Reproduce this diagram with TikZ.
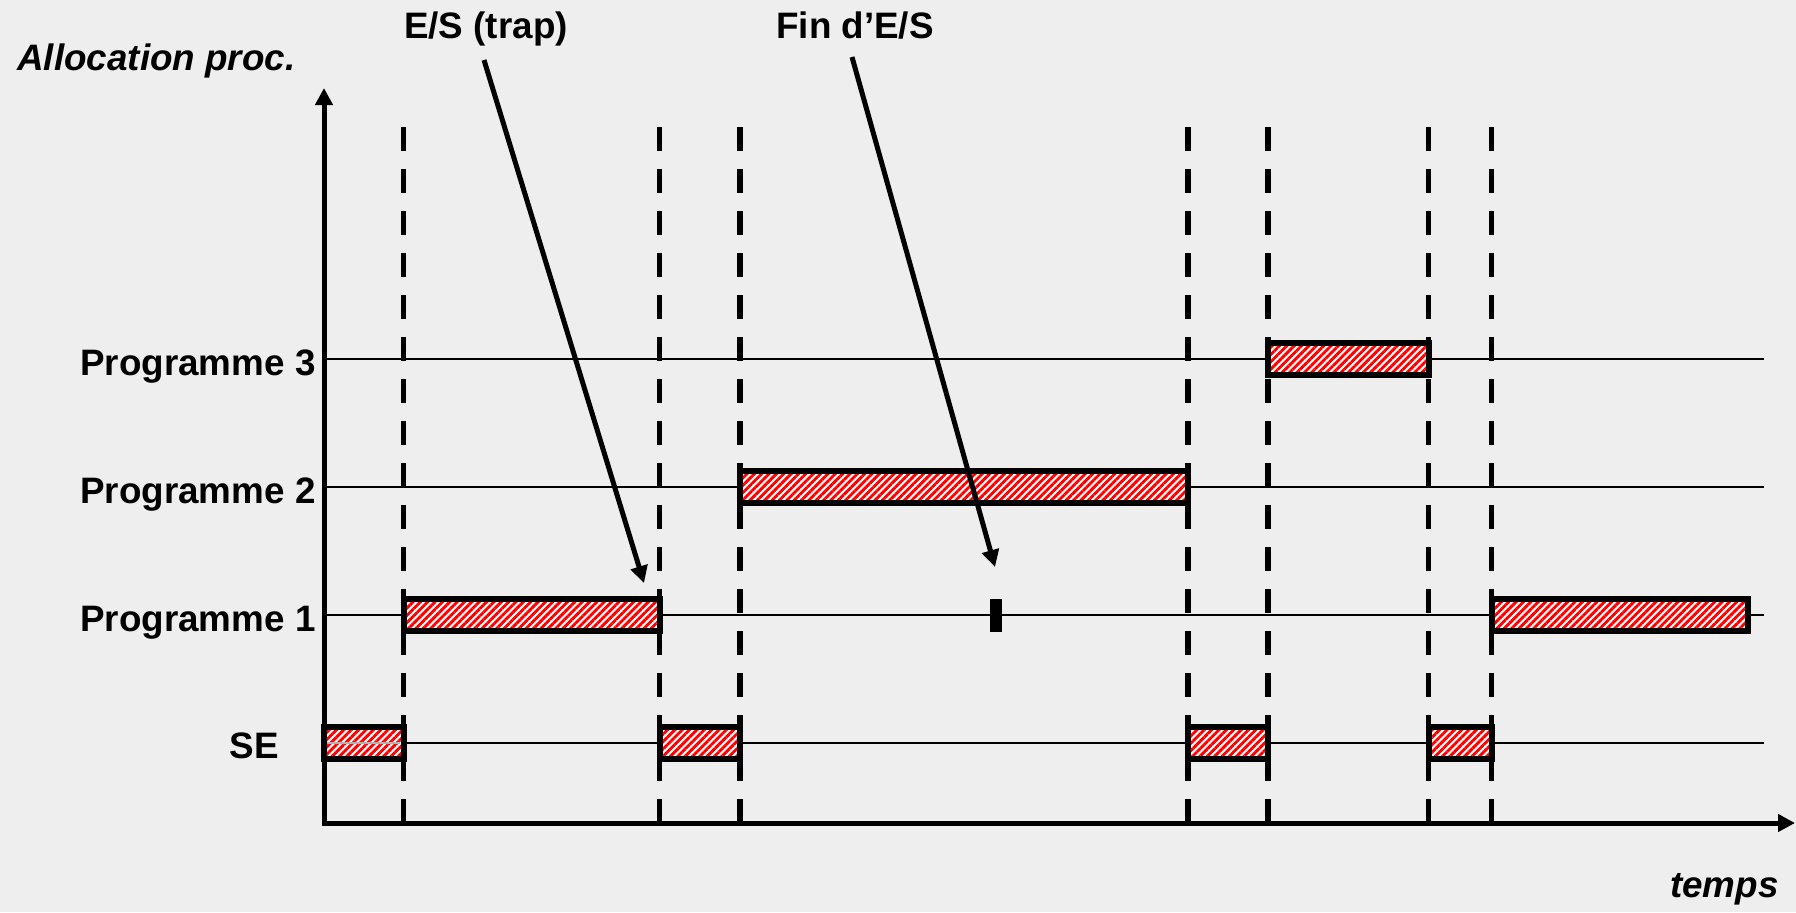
\documentclass[tikz,border=0pt]{standalone}
\usepackage{fontspec}
\setmainfont{Liberation Sans}
\usetikzlibrary{arrows.meta,patterns.meta}
\definecolor{bg}{HTML}{EEEEEE}
\begin{document}
\begin{tikzpicture}[x=0.5pt,y=-0.5pt,
  lbl/.style={font=\fontsize{18.4}{22}\selectfont\bfseries, inner sep=0pt},
  ilbl/.style={font=\fontsize{18.4}{22}\selectfont\bfseries\itshape, inner sep=0pt},
  levelline/.style={line width=1pt},
  dashline/.style={line width=2.75pt, dash pattern=on 12pt off 9pt},
  barbox/.style={preaction={fill=white},
    preaction={pattern={Lines[angle=45,distance=2.6pt,line width=1.45pt]}, pattern color=red},
    draw=black, line width=3pt},
  axisline/.style={line width=2.5pt},
  callout/.style={line width=2.5pt, -{Triangle[length=8.5pt,width=8.5pt]}}]
\fill[bg] (0,0) rectangle (1796,912);
\useasboundingbox (0,0) rectangle (1796,912);
% axis reference points
\coordinate (O) at (324,823);
\coordinate (ytop) at (324,88);
\coordinate (xend) at (1795,823);
% level lines
\foreach \y in {359,487,615,743}{
  \draw[levelline] (324,\y) -- (1764,\y);
}
% dashed separators
\foreach \x in {403.5,659.5,740,1188,1268,1428.5,1491.5}{
  \draw[dashline] (\x,127) -- (\x,823);
}
% bars
\draw[barbox] (324,727) rectangle (403.5,759);
\draw[gray!60, line width=1pt] (327,743) -- (400,743);
\draw[barbox] (403.5,599) rectangle (659.5,631);
\draw[barbox] (659.5,727) rectangle (740,759);
\draw[barbox] (740,471) rectangle (1188,503);
\draw[barbox] (1188,727) rectangle (1268,759);
\draw[barbox] (1268,343) rectangle (1428.5,375);
\draw[barbox] (1428.5,727) rectangle (1491.5,759);
\draw[barbox] (1491.5,599) rectangle (1748,631);
% marker
\fill (990,599) rectangle (1002,632);
% axes
\draw[axisline, {Triangle[length=8.5pt,width=8.5pt]}-{Triangle[length=8.5pt,width=8.5pt]}] (ytop) -- (O) -- (xend);
% labels
\node[ilbl, anchor=base west] (alloc) at (17,70) {Allocation proc.};
\node[ilbl, anchor=base east] (temps) at (1779,897) {temps};
\node[lbl, anchor=base east] (p3) at (316,375) {Programme 3};
\node[lbl, anchor=base east] (p2) at (316,503) {Programme 2};
\node[lbl, anchor=base east] (p1) at (316,631) {Programme 1};
\node[lbl, anchor=base east] (se) at (279,758) {SE};
\node[lbl, anchor=base] (es) at (486,38) {E/S (trap)};
\node[lbl, anchor=base] (fin) at (855,38) {Fin d’E/S};
% callouts
\coordinate (esA) at (484,60);
\coordinate (esB) at (644,583);
\coordinate (finA) at (852,57);
\coordinate (finB) at (995,567);
\draw[callout] (esA) -- (esB);
\draw[callout] (finA) -- (finB);
\end{tikzpicture}
\end{document}
